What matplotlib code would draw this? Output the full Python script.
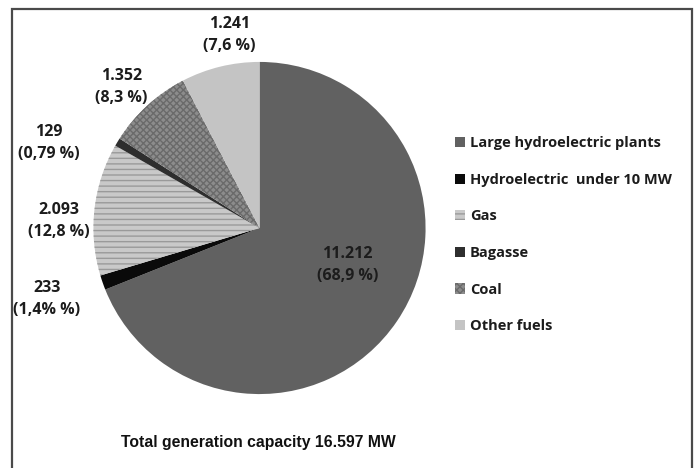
import matplotlib.pyplot as plt
from matplotlib.patches import Patch, Rectangle

# данные
labels = ["Large hydroelectric plants", "Hydroelectric  under 10 MW", "Gas",
          "Bagasse", "Coal", "Other fuels"]
values = [11212, 233, 2093, 129, 1352, 1241]
value_text = ["11.212", "233", "2.093", "129", "1.352", "1.241"]
pct_text = ["68,9 %", "1,4% %", "12,8 %", "0,79 %", "8,3 %", "7,6 %"]
title = "Total generation capacity 16.597 MW"

# стиль
colors = ["#616161", "#0a0a0a", "#c9c9c9", "#2e2e2e", "#8c8c8c", "#c4c4c4"]
hatch_colors = ["#616161", "#0a0a0a", "#9a9a9a", "#2e2e2e", "#6a6a6a", "#c4c4c4"]
hatches = [None, None, "---", None, "xxxxx", None]
label_pos = [(0.53, -0.22), (-1.28, -0.43), (-1.21, 0.04),
             (-1.27, 0.51), (-0.83, 0.85), (-0.18, 1.16)]

plt.rcParams["hatch.linewidth"] = 1.0
font = ["Open Sans", "DejaVu Sans"]
txt_color = "#1c1c1c"

fig = plt.figure(figsize=(6.96, 4.68), dpi=100)
fig.patches.append(Rectangle((12 / 696, -0.1), 680 / 696, 1.1 - 9 / 468,
                             transform=fig.transFigure, fill=False,
                             edgecolor="#4a4a4a", linewidth=1.6))

ax = fig.add_axes([27 / 696, 24 / 468, 465 / 696, 432 / 468])
wedges, _ = ax.pie(values, colors=colors, startangle=90, counterclock=False,
                   radius=1, wedgeprops=dict(linewidth=0))
for w, h, hc in zip(wedges, hatches, hatch_colors):
    if h:
        w.set_hatch(h)
        w.set_edgecolor(hc)
ax.set_xlim(-1.4, 1.4)
ax.set_ylim(-1.3, 1.3)
ax.set_aspect("equal")
ax.axis("off")

for (x, y), v, p in zip(label_pos, value_text, pct_text):
    ax.text(x, y, v + "\n(" + p + ")", ha="center", va="center",
            fontsize=11.5, fontweight="bold", family=font, color=txt_color,
            linespacing=1.5)

handles = [Patch(facecolor=c, edgecolor=hc, hatch=h, linewidth=0)
           for c, hc, h in zip(colors, hatch_colors, hatches)]
fig.legend(handles, labels, loc="upper left", bbox_to_anchor=(442 / 696, 1 - 123 / 468),
           frameon=False, prop=dict(family=font, weight="bold", size=10.5),
           handlelength=0.7, handleheight=0.7, handletextpad=0.3,
           labelspacing=1.55, labelcolor=txt_color)

fig.text(258 / 696, 1 - 443 / 468, title, ha="center", va="center",
         fontsize=11.3, fontweight="bold", family="Liberation Sans", color="#111111")

plt.savefig("out.png", dpi=100)
